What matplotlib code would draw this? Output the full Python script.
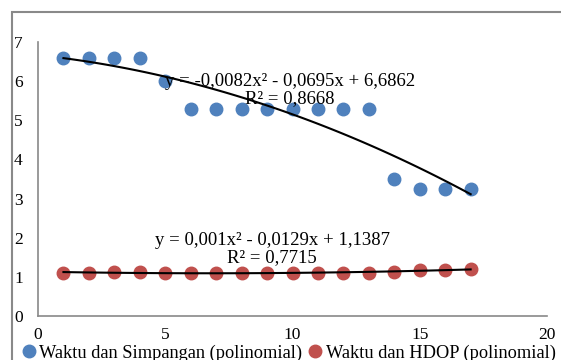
import numpy as np
import matplotlib.pyplot as plt
from matplotlib.patches import Rectangle

plt.rcParams['font.family'] = ['Liberation Serif', 'DejaVu Serif']

waktu = np.arange(1, 18)
simpangan = [6.6, 6.6, 6.6, 6.6, 6.0, 5.3, 5.3, 5.3, 5.3, 5.3, 5.3, 5.3, 5.3,
             3.5, 3.25, 3.25, 3.25]
hdop = [1.1, 1.1, 1.12, 1.12, 1.1, 1.1, 1.1, 1.1, 1.1, 1.1, 1.1, 1.1, 1.1,
        1.12, 1.18, 1.18, 1.2]

eq1 = 'y = -0,0082x² - 0,0695x + 6,6862\nR² = 0,8668'
eq2 = 'y = 0,001x² - 0,0129x + 1,1387\nR² = 0,7715'
label1 = 'Waktu dan Simpangan (polinomial)'
label2 = 'Waktu dan HDOP (polinomial)'

blue = '#4F81BD'
red = '#C0504D'
grey = '#898989'

fig = plt.figure(figsize=(5.61, 3.6), dpi=100)
ax = fig.add_axes([38/561, 44/360, 509/561, 274/360])

# outer chart border
fig.patches.append(Rectangle((12/561, -0.1), 1.0, (348/360) + 0.1, transform=fig.transFigure,
                             fill=False, edgecolor=grey, linewidth=1.5))

ax.plot(waktu, simpangan, 'o', color=blue, markersize=9, zorder=3, label=label1)
ax.plot(waktu, hdop, 'o', color=red, markersize=9, zorder=3, label=label2)

# polynomial trendlines
xs = np.linspace(1, 17, 100)
p1 = np.polyfit(waktu, simpangan, 2)
p2 = np.polyfit(waktu, hdop, 2)
ax.plot(xs, np.polyval(p1, xs), color='black', linewidth=1.5, zorder=4)
ax.plot(xs, np.polyval(p2, xs), color='black', linewidth=1.5, zorder=4)

ax.text(9.9, 5.33, eq1, ha='center', va='bottom', fontsize=13.5, linespacing=1.05, zorder=5)
ax.text(9.2, 1.27, eq2, ha='center', va='bottom', fontsize=13.5, linespacing=1.05, zorder=5)

ax.set_xlim(0, 20)
ax.set_ylim(0, 7)
ax.set_xticks([0, 5, 10, 15, 20])
ax.set_yticks(range(0, 8))
ax.tick_params(length=0, labelsize=12.5)
ax.tick_params(axis='x', pad=8)
ax.tick_params(axis='y', pad=11)
for s in ['top', 'right']:
    ax.spines[s].set_visible(False)
for s in ['left', 'bottom']:
    ax.spines[s].set_color(grey)
    ax.spines[s].set_linewidth(1.2)

fig.legend(loc='lower left', bbox_to_anchor=(2/561, -18/360), ncol=2, frameon=False,
           fontsize=13.2, handletextpad=0.0, columnspacing=0.2, markerscale=1.0,
           handlelength=1.1)

fig.savefig('out.png', dpi=100)
